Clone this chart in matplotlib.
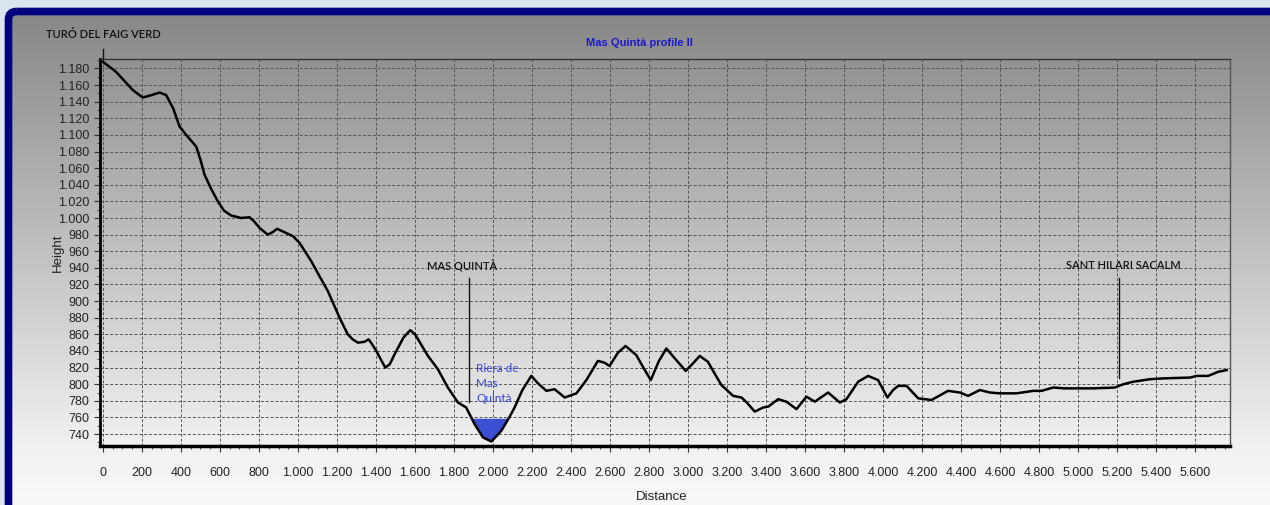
import numpy as np
import matplotlib
matplotlib.use("Agg")
import matplotlib.pyplot as plt
from matplotlib import font_manager
from matplotlib.patches import FancyBboxPatch, Rectangle
from matplotlib.ticker import MultipleLocator, FuncFormatter

# profile: distance (m), height (m)
distance = [0, 67, 153, 204, 250, 290, 324, 360, 393, 427, 478, 500, 521, 555, 589,
            620, 657, 709, 751, 775, 803, 845, 870, 893, 948, 975, 1008, 1068, 1110,
            1153, 1213, 1255, 1280, 1307, 1340, 1362, 1380, 1401, 1447, 1470, 1495,
            1540, 1575, 1600, 1666, 1717, 1768, 1820, 1862, 1905, 1948, 1991, 2042,
            2085, 2110, 2150, 2196, 2230, 2273, 2315, 2367, 2427, 2478, 2537, 2570,
            2597, 2640, 2679, 2734, 2770, 2808, 2850, 2888, 2939, 2987, 3020, 3059,
            3101, 3130, 3170, 3230, 3273, 3300, 3341, 3384, 3410, 3461, 3503, 3555,
            3606, 3649, 3717, 3777, 3811, 3871, 3922, 3973, 4021, 4050, 4076, 4119,
            4179, 4247, 4332, 4392, 4435, 4495, 4546, 4597, 4682, 4768, 4811, 4871,
            4930, 5076, 5187, 5230, 5281, 5367, 5435, 5572, 5606, 5665, 5717, 5760]
height = [1188, 1176, 1154, 1145, 1148, 1151, 1148, 1132, 1110, 1100, 1086, 1070, 1052,
          1035, 1020, 1009, 1003, 1000, 1001, 996, 988, 980, 983, 987, 981, 978, 970,
          948, 930, 912, 880, 860, 854, 850, 851, 854, 848, 840, 820, 824, 836, 856,
          865, 860, 834, 818, 796, 778, 772, 752, 736, 731, 744, 761, 772, 793, 810,
          801, 792, 794, 784, 789, 805, 828, 826, 822, 838, 846, 835, 820, 805, 828,
          843, 829, 816, 824, 834, 827, 815, 799, 786, 784, 778, 767, 772, 773, 782,
          779, 770, 785, 779, 790, 778, 782, 803, 810, 805, 784, 793, 798, 798, 783,
          781, 792, 790, 786, 793, 790, 789, 789, 792, 792, 796, 795, 795, 796, 800,
          803, 806, 807, 808, 810, 810, 815, 817]
water_level = 759

title = "Mas Quintà profile II"
places = ["TURÓ DEL FAIG VERD", "MAS QUINTÀ", "SANT HILARI SACALM"]
place_x = [0, 1841, 5233]
place_text_y = [1221, 942, 943]
place_line = [(0, 1191, 1203), (1876, 779, 928), (5209, 807, 928)]
river = "Riera de\nMas\nQuintà"


def pick(*names):
    have = {f.name for f in font_manager.fontManager.ttflist}
    for n in names:
        if n in have:
            return n
    return "DejaVu Sans"


narrow = pick("Liberation Sans Narrow", "Liberation Sans")
arial = pick("Liberation Sans")
calibri = pick("Lato", "Open Sans")

W, H = 1270, 505
fig = plt.figure(figsize=(W / 100, H / 100), dpi=100)

# background: light blue window, navy frame, grey gradient panel
bg = fig.add_axes([0, 0, 1, 1], zorder=0)
bg.set_xlim(0, W)
bg.set_ylim(H, 0)
bg.axis("off")
bg.add_patch(Rectangle((0, 0), W, H, color="#dbe5f1"))
grad = np.interp(np.arange(H), [15, 445, 500], [0.53, 0.94, 0.97])
img = np.repeat(grad[:, None], 2, axis=1)
im = bg.imshow(img, cmap="gray", vmin=0, vmax=1, extent=(0, W, H, 0),
               aspect="auto", zorder=1)
frame = FancyBboxPatch((8.5, 11.5), W + 10, H + 20,
                       boxstyle="round,pad=0,rounding_size=8",
                       fc="none", ec="#000080", lw=5.5, zorder=2)
bg.add_patch(frame)
clip = FancyBboxPatch((8.5, 11.5), W + 10, H + 20,
                      boxstyle="round,pad=0,rounding_size=8",
                      fc="none", ec="none", transform=bg.transData)
im.set_clip_path(clip)

ax = fig.add_axes([100 / W, 1 - 445.7 / H, 1130 / W, 386.4 / H], zorder=1)
ax.set_facecolor("none")

ax.plot(distance, height, color="black", lw=1.8, solid_joinstyle="round", zorder=3)
d = np.array(distance)
h = np.array(height)
ax.fill_between(d, h, water_level, where=h < water_level, interpolate=True,
                color="#3b4fd4", lw=0, zorder=2)

ax.set_xlim(-15, 5777)
ax.set_ylim(726, 1191)
ax.xaxis.set_major_locator(MultipleLocator(200))
ax.xaxis.set_minor_locator(MultipleLocator(50))
ax.yaxis.set_major_locator(MultipleLocator(20))
ax.yaxis.set_minor_locator(MultipleLocator(10))
fmt = FuncFormatter(lambda v, p: f"{int(round(v)):,}".replace(",", "."))
ax.xaxis.set_major_formatter(fmt)
ax.yaxis.set_major_formatter(fmt)
ax.set_xticks([t for t in range(0, 5601, 200)])
ax.grid(True, which="major", color="#555555", lw=0.7, linestyle=(0, (3, 2)))
ax.tick_params(which="major", length=4, width=0.8, color="#333333",
               labelsize=9, labelcolor="#222222")
ax.tick_params(which="minor", length=2, width=0.6, color="#333333")
ax.tick_params(axis="x", which="major", pad=11)
for lab in ax.get_xticklabels() + ax.get_yticklabels():
    lab.set_fontfamily(narrow)

ax.spines["left"].set_linewidth(2)
ax.spines["bottom"].set_linewidth(2.5)
ax.spines["top"].set_linewidth(1)
ax.spines["top"].set_color("#333333")
ax.spines["right"].set_linewidth(1)
ax.spines["right"].set_color("#555555")

ax.set_ylabel("Height", fontsize=9.5, family=arial, color="#222222")
ax.yaxis.set_label_coords(-0.032, 0.5)
ax.set_xlabel("Distance", fontsize=9.5, family=arial, color="#222222")
ax.xaxis.set_label_coords(0.497, -0.117)

fig.text(639 / W, 1 - 43.3 / H, title, ha="center", va="center", fontsize=8,
         fontweight="bold", color="#1a1ad0", family=arial)

for name, x, y, (lx, y0, y1) in zip(places, place_x, place_text_y, place_line):
    ax.text(x, y, name, ha="center", va="center", fontsize=8, color="#111111",
            family=calibri, fontweight="semibold", clip_on=False, zorder=4)
    ax.plot([lx, lx], [y0, y1], color="#111111", lw=1, clip_on=False, zorder=4)

ax.text(1914, 825, river, ha="left", va="top", fontsize=8.5, color="#4250d0",
        family=calibri, fontweight="medium", linespacing=1.4, zorder=4)

fig.savefig("out.png", dpi=100)
